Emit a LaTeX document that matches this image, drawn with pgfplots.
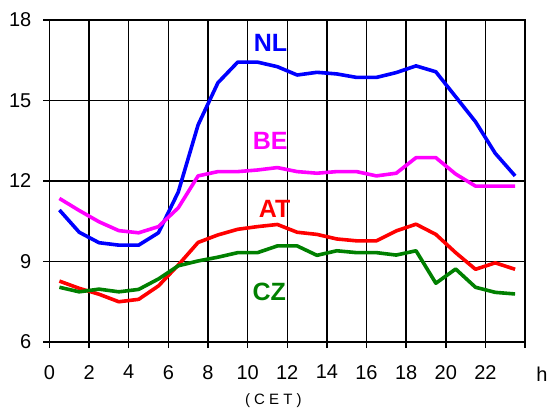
\documentclass[border=0pt]{standalone}
\usepackage{fontspec}
\setmainfont{Liberation Sans}
\usepackage{pgfplots}
\pgfplotsset{compat=1.18}

\definecolor{nlBlue}{RGB}{0,0,255}
\definecolor{beMagenta}{RGB}{255,0,255}
\definecolor{atRed}{RGB}{255,0,0}
\definecolor{czGreen}{RGB}{0,128,0}

\begin{document}
\begin{tikzpicture}[
	country/.style = {font=\fontsize{25bp}{30bp}\selectfont\bfseries, inner sep=0pt},
]
\begin{axis}[
	scale only axis,
	width=475.5bp, height=322bp,
	xmin=0, xmax=24, ymin=6, ymax=18,
	clip=false,
	xtick={0,2,...,24},
	xticklabels={0,2,4,6,8,10,12,14,16,18,20,22,},
	ytick={6,9,12,15,18},
	xtick pos=bottom, ytick pos=left,
	tick align=outside,
	major tick length=6bp,
	grid=major,
	grid style={black, line width=1.5bp},
	axis line style={black, line width=1.8bp},
	tick style={black, line width=1.5bp},
	/pgf/number format/assume math mode=true,
	every tick label/.append style={font=\fontsize{20bp}{24bp}\selectfont, inner sep=0pt},
	yticklabel style={xshift=-12bp},
	xticklabel style={yshift=-17bp},
	every axis plot/.style={line width=3.6bp, no markers, line join=round},
]
\coordinate (sw) at (rel axis cs:0,0);

% NL
\addplot [nlBlue] coordinates {
(0.5,10.92) (1.5,10.09) (2.5,9.70) (3.5,9.61) (4.5,9.61) (5.5,10.07)
(6.5,11.59) (7.5,14.09) (8.5,15.66) (9.5,16.43) (10.5,16.43) (11.5,16.26)
(12.5,15.95) (13.5,16.05) (14.5,15.99) (15.5,15.86) (16.5,15.86) (17.5,16.04)
(18.5,16.29) (19.5,16.07) (20.5,15.14) (21.5,14.21) (22.5,13.03) (23.5,12.19)
};

% BE
\addplot [beMagenta] coordinates {
(0.5,11.35) (1.5,10.90) (2.5,10.48) (3.5,10.15) (4.5,10.07) (5.5,10.30)
(6.5,11.00) (7.5,12.19) (8.5,12.35) (9.5,12.35) (10.5,12.41) (11.5,12.50)
(12.5,12.35) (13.5,12.29) (14.5,12.35) (15.5,12.35) (16.5,12.19) (17.5,12.29)
(18.5,12.87) (19.5,12.87) (20.5,12.26) (21.5,11.81) (22.5,11.81) (23.5,11.81)
};

% AT
\addplot [atRed] coordinates {
(0.5,8.27) (1.5,8.00) (2.5,7.78) (3.5,7.50) (4.5,7.59) (5.5,8.09)
(6.5,8.87) (7.5,9.71) (8.5,9.99) (9.5,10.20) (10.5,10.30) (11.5,10.38)
(12.5,10.09) (13.5,10.01) (14.5,9.84) (15.5,9.77) (16.5,9.77) (17.5,10.14)
(18.5,10.39) (19.5,10.01) (20.5,9.33) (21.5,8.71) (22.5,8.95) (23.5,8.71)
};

% CZ
\addplot [czGreen] coordinates {
(0.5,8.04) (1.5,7.87) (2.5,7.97) (3.5,7.87) (4.5,7.96) (5.5,8.35)
(6.5,8.84) (7.5,9.02) (8.5,9.16) (9.5,9.33) (10.5,9.33) (11.5,9.58)
(12.5,9.58) (13.5,9.23) (14.5,9.40) (15.5,9.33) (16.5,9.33) (17.5,9.24)
(18.5,9.40) (19.5,8.19) (20.5,8.72) (21.5,8.04) (22.5,7.85) (23.5,7.79)
};

\node[country, text=nlBlue] at (axis cs:11.16,17.14) {NL};
\node[country, text=beMagenta] at (axis cs:11.14,13.51) {BE};
\node[country, text=atRed] at (axis cs:11.36,10.96) {AT};
\node[country, text=czGreen] at (axis cs:11.09,7.88) {CZ};

\node[font=\fontsize{20bp}{24bp}\selectfont, anchor=base, inner sep=0pt]
	at ([yshift=-39.7bp]axis cs:24.86,6) {h};
\node[font=\fontsize{15bp}{18bp}\selectfont, inner sep=0pt]
	at ([yshift=-59bp]axis cs:11.3,6) {( C E T )};
\end{axis}
\pgfresetboundingbox
\path[use as bounding box] (sw) ++(-49.5bp,-73bp) rectangle ++(550bp,415bp);
\end{tikzpicture}
\end{document}
